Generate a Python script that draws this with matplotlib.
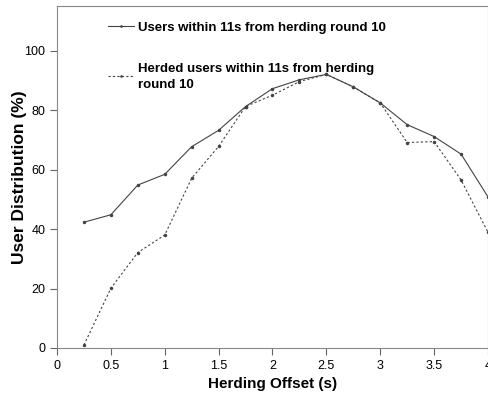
import matplotlib
matplotlib.use('Agg')
import matplotlib.pyplot as plt

plt.rcParams['font.family'] = ['Liberation Sans', 'DejaVu Sans']

offset = [0.25, 0.5, 0.75, 1.0, 1.25, 1.5, 1.75, 2.0, 2.25, 2.5, 2.75, 3.0, 3.25, 3.5, 3.75, 4.0]
users = [42.3, 44.8, 54.8, 58.4, 67.7, 73.2, 81.2, 87.2, 90.2, 92.0, 87.8, 82.4, 75.1, 71.1, 65.2, 50.8]
herded = [1.0, 20.1, 32.1, 38.0, 57.1, 67.8, 81.2, 85.0, 89.6, 92.0, 87.8, 82.4, 69.1, 69.4, 56.5, 38.9]

xticks = [0, 0.5, 1, 1.5, 2, 2.5, 3, 3.5, 4]
xticklabels = ['0', '0.5', '1', '1.5', '2', '2.5', '3', '3.5', '4']
yticks = [0, 20, 40, 60, 80, 100]

fig = plt.figure(figsize=(4.89, 3.98), dpi=100)
ax = fig.add_axes([57 / 489, 50 / 398, 431 / 489, 342 / 398])

ax.plot(offset, users, color='#444444', lw=0.8, marker='.', markersize=3,
        label='Users within 11s from herding round 10')
ax.plot(offset, herded, color='#444444', lw=0.8, ls=(0, (2, 2)), marker='.', markersize=3,
        label='Herded users within 11s from herding\nround 10')

ax.set_xlim(0, 4)
ax.set_ylim(0, 115)
ax.set_xticks(xticks)
ax.set_xticklabels(xticklabels)
ax.set_yticks(yticks)
ax.tick_params(labelsize=9, length=5, width=0.8, color='#666666')

for s in ax.spines.values():
    s.set_color('#888888')
    s.set_linewidth(0.8)

ax.set_xlabel('Herding Offset (s)', fontsize=11, fontweight='bold', labelpad=4)
ax.set_ylabel('User Distribution (%)', fontsize=12.5, fontweight='bold', labelpad=-2)

leg = ax.legend(loc='upper left', bbox_to_anchor=(0.09, 0.99), frameon=False,
                prop={'weight': 'bold', 'size': 9.5}, handlelength=2.0,
                handletextpad=0.3, labelspacing=2.2, markerscale=0.6)
for t in leg.get_texts():
    t.set_linespacing(1.45)

fig.savefig('out.png', dpi=100)
